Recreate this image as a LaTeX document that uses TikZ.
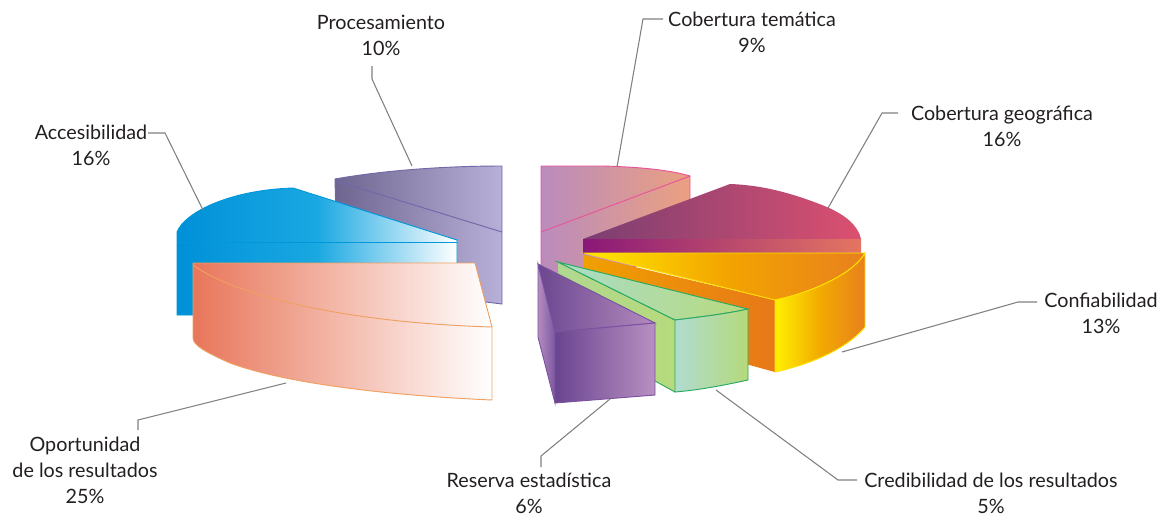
\documentclass[tikz,border=0pt]{standalone}
\usepackage{fontspec}
\setmainfont{Lato}
\definecolor{pr1}{HTML}{6E6690}\definecolor{pr2}{HTML}{B8B0D8}\definecolor{prs}{HTML}{7068A8}
\definecolor{bl1}{HTML}{0090D8}\definecolor{bl2}{HTML}{1AA8E2}\definecolor{bl3}{HTML}{0098DA}
\definecolor{or1}{HTML}{E8765A}\definecolor{ors}{HTML}{F0A060}
\definecolor{pk1}{HTML}{BA8CBD}\definecolor{pk2}{HTML}{EBA080}\definecolor{pks}{HTML}{E6559A}
\definecolor{mr1}{HTML}{7A3E72}\definecolor{mr2}{HTML}{DC5070}\definecolor{ms1}{HTML}{8A1878}\definecolor{ms2}{HTML}{E47562}
\definecolor{yc1}{HTML}{F0A000}\definecolor{yc2}{HTML}{E87818}
\definecolor{yt1}{HTML}{FFE800}\definecolor{yt2}{HTML}{F3A500}\definecolor{yt3}{HTML}{E8801E}\definecolor{ys}{HTML}{FFE000}
\definecolor{yf1}{HTML}{FFF000}\definecolor{yf2}{HTML}{F2AA00}
\definecolor{gc1}{HTML}{B0D890}\definecolor{gc2}{HTML}{B6DA7C}\definecolor{gt1}{HTML}{A8DCC8}\definecolor{gt2}{HTML}{B9DA7E}
\definecolor{gf1}{HTML}{B0DCD0}\definecolor{gf2}{HTML}{B5D97A}\definecolor{gs}{HTML}{2CA862}
\definecolor{rl1}{HTML}{B48CC0}\definecolor{rl2}{HTML}{7C58A0}\definecolor{rt1}{HTML}{6B4790}\definecolor{rt2}{HTML}{B48ABD}
\definecolor{rf1}{HTML}{6A4590}\definecolor{rf2}{HTML}{B890C2}\definecolor{rs}{HTML}{7A52A0}
\definecolor{leadgray}{HTML}{808080}\definecolor{txt}{HTML}{231F20}
\begin{document}
\begin{tikzpicture}[x=0.75pt,y=-0.75pt,
  lbl/.style={font=\fontsize{14.8}{19.5}\selectfont, align=center, text=txt, inner sep=0pt},
  lead/.style={draw=leadgray, line width=0.8pt},
  edge/.style={line width=0.7pt}]
\useasboundingbox (0,0) rectangle (1163,519);

% ---- left group ----
% Procesamiento
\shadedraw[left color=pr1, right color=pr2, draw=prs, edge] (335,179) .. controls (380,171) and (440,166) .. (502,166) -- (502,304) -- (470,300) -- (337,262) -- cycle;
\draw[prs, edge] (336,181) -- (502,232);
% Accesibilidad
\shadedraw[left color=bl1, right color=white, middle color=bl2, draw=bl3, edge] (177,315) -- (177,232) .. controls (185,212) and (230,190) .. (293,188) -- (457,240) -- (457,272) -- (193,272) -- (193,315) -- cycle;
\draw[bl3, edge] (177,242) -- (457,242);
% Oportunidad
\shadedraw[left color=or1, right color=white, draw=ors, edge] (193,263) -- (475,263) -- (492,327) -- (492,400) .. controls (400,396) and (290,385) .. (230,363) .. controls (205,352) and (193,345) .. (193,338) -- cycle;
\draw[ors, edge] (193,265) .. controls (230,292) and (330,322) .. (492,327);

% ---- right group ----
% Cobertura tematica
\shadedraw[left color=pk1, right color=pk2, draw=pks, edge] (541,280) -- (541,166) -- (603,166) .. controls (640,167) and (670,170) .. (690,176) -- (690,245) -- (600,280) -- cycle;
\draw[pks, edge] (541,232) -- (690,176);
% Cobertura geografica
\shade[left color=mr1, right color=mr2] (583,239) -- (730,184) .. controls (760,185) and (790,192) .. (827,207) .. controls (845,215) and (858,225) .. (861,239) -- cycle;
\shade[left color=ms1, right color=ms2] (583,239) rectangle (861,253);
% Confiabilidad
\shade[left color=yc1, right color=yc2] (584,255) -- (775,300) -- (775,372) -- (584,320) -- cycle;
\shadedraw[left color=yt1, right color=yt3, middle color=yt2, draw=ys, edge] (584,253) -- (865,253) .. controls (855,272) and (815,292) .. (775,300) -- cycle;
\shadedraw[left color=yf1, right color=yt3, middle color=yf2, draw=ys, edge] (775,300) .. controls (815,292) and (855,272) .. (865,253) -- (865,327) .. controls (850,345) and (820,362) .. (775,372) -- cycle;
% Credibilidad
\shade[left color=gc1, right color=gc2] (558,262) -- (675,320) -- (675,392) -- (655,381) -- (560,300) -- cycle;
\draw[gs, edge] (558,262) -- (675,320) (655,381) -- (675,392);
\shadedraw[left color=gt1, right color=gt2, draw=gs, edge] (558,262) -- (748,309) .. controls (725,314) and (700,317) .. (675,320) -- cycle;
\shadedraw[left color=gf1, right color=gf2, draw=gs, edge] (675,320) .. controls (700,317) and (725,314) .. (748,309) -- (748,380) .. controls (725,385) and (700,390) .. (675,392) -- cycle;
% Reserva estadistica
\shadedraw[left color=rl1, right color=rl2, draw=rs, edge] (538,264) -- (555,332) -- (555,403) -- (538,337) -- cycle;
\shadedraw[left color=rt1, right color=rt2, draw=rs, edge] (538,264) -- (655,323) -- (555,332) -- cycle;
\shadedraw[left color=rf1, right color=rf2, draw=rs, edge] (555,332) -- (655,323) -- (655,395) -- (555,403) -- cycle;

% ---- labels ----
\node[lbl] (lproc) at (381,35) {Procesamiento\\10\%};
\node[lbl] (lacc) at (91,145) {Accesibilidad\\16\%};
\node[lbl] (ltem) at (752,32) {Cobertura temática\\9\%};
\node[lbl] (lgeo) at (1002,126) {Cobertura geográfica\\16\%};
\node[lbl] (lconf) at (1101,313) {Confiabilidad\\13\%};
\node[lbl] (lcred) at (991,493) {Credibilidad de los resultados\\5\%};
\node[lbl] (lres) at (529,493) {Reserva estadística\\6\%};
\node[lbl] (lop) at (85,470) {Oportunidad\\de los resultados\\25\%};

% ---- leader ends ----
\coordinate (pA) at (372,66);  \coordinate (pB) at (372,79);  \coordinate (pC) at (412,166);
\coordinate (aA) at (148,133); \coordinate (aB) at (165,133); \coordinate (aC) at (203,210);
\coordinate (tA) at (663,19);  \coordinate (tB) at (643,19);  \coordinate (tC) at (617,167);
\coordinate (gA) at (898,113); \coordinate (gB) at (882,113); \coordinate (gC) at (828,208);
\coordinate (cA) at (1037,302);\coordinate (cB) at (1018,302);\coordinate (cC) at (842,352);
\coordinate (dA) at (857,480); \coordinate (dB) at (838,480); \coordinate (dC) at (716,390);
\coordinate (rA) at (541,467); \coordinate (rB) at (541,456); \coordinate (rC) at (610,399);
\coordinate (oA) at (138,430); \coordinate (oB) at (138,420); \coordinate (oC) at (286,383);

\draw[lead] (pA) -- (pB) -- (pC);
\draw[lead] (aA) -- (aB) -- (aC);
\draw[lead] (tA) -- (tB) -- (tC);
\draw[lead] (gA) -- (gB) -- (gC);
\draw[lead] (cA) -- (cB) -- (cC);
\draw[lead] (dA) -- (dB) -- (dC);
\draw[lead] (rA) -- (rB) -- (rC);
\draw[lead] (oA) -- (oB) -- (oC);
\end{tikzpicture}
\end{document}
